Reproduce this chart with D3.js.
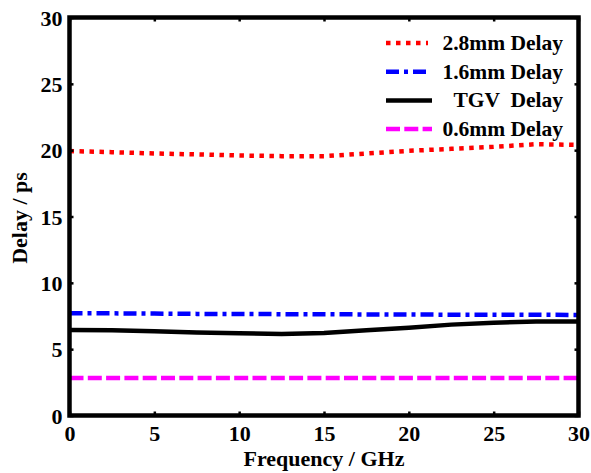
<!DOCTYPE html>
<html>
<head>
<meta charset="utf-8">
<script src="https://cdn.jsdelivr.net/npm/d3@7"></script>
<style>
  body { margin: 0; background: #fff; }
</style>
</head>
<body>
<div id="chart"></div>
<script>
// frequency samples (GHz) and delays (ps)
const freq = [0, 2.5, 5, 7.5, 10, 12.5, 15, 17.5, 20, 22.5, 25, 27.5, 30];
const delay28 = [19.93, 19.85, 19.75, 19.68, 19.6, 19.55, 19.55, 19.75, 19.95, 20.1, 20.25, 20.45, 20.4];
const delay16 = [7.7, 7.7, 7.68, 7.66, 7.65, 7.64, 7.63, 7.62, 7.61, 7.6, 7.6, 7.59, 7.58];
const delayTGV = [6.45, 6.42, 6.35, 6.25, 6.2, 6.15, 6.22, 6.42, 6.62, 6.85, 7.0, 7.08, 7.08];
const delay06 = [2.82, 2.82, 2.82, 2.82, 2.82, 2.82, 2.82, 2.82, 2.82, 2.82, 2.82, 2.82, 2.82];

const xTicks = [0, 5, 10, 15, 20, 25, 30];
const yTicks = [0, 5, 10, 15, 20, 25, 30];

const seriesNames = ["2.8mm Delay", "1.6mm Delay", "TGV  Delay", "0.6mm Delay"];

const FONT = "'Liberation Serif', 'Times New Roman', Times, serif";

let margin = {top: 17.5, right: 12.5, bottom: 57.5, left: 69.5};
let width = 591 - margin.left - margin.right;
let height = 473 - margin.top - margin.bottom;

let svg = d3.select("#chart").append("svg")
  .attr("width", 591)
  .attr("height", 473)
  .append("g")
  .attr("transform", `translate(${margin.left},${margin.top})`);

let x = d3.scaleLinear().domain([0, 30]).range([0, width]);
let y = d3.scaleLinear().domain([0, 30]).range([height, 0]);

// series
let series = [
  {name: seriesNames[0], values: delay28, color: "#ff0000", dash: "4.5,5.5", len: 42},
  {name: seriesNames[1], values: delay16, color: "#0000ff", dash: "13,5,4,5", len: 42},
  {name: seriesNames[2], values: delayTGV, color: "#000000", dash: null, len: 46},
  {name: seriesNames[3], values: delay06, color: "#ff00ff", dash: "14,4.3", len: 46}
];

let line = d3.line()
  .x((d, i) => x(freq[i]))
  .y(d => y(d));

svg.selectAll(".series")
  .data(series)
  .join("path")
  .attr("class", "series")
  .attr("d", d => line(d.values))
  .attr("fill", "none")
  .attr("stroke", d => d.color)
  .attr("stroke-width", 4.5)
  .attr("stroke-dasharray", d => d.dash);

// axes with inward ticks on all four sides
let xAxis = d3.axisBottom(x).tickValues(xTicks).tickSize(-4).tickPadding(10).tickFormat(d3.format("d"));
let yAxis = d3.axisLeft(y).tickValues(yTicks).tickSize(-4).tickPadding(7).tickFormat(d3.format("d"));

let xAxisG = svg.append("g").attr("transform", `translate(0,${height})`).call(xAxis);
let yAxisG = svg.append("g").call(yAxis);
let topG = svg.append("g").call(d3.axisTop(x).tickValues(xTicks).tickSize(-4).tickFormat(""));
let rightG = svg.append("g").attr("transform", `translate(${width},0)`)
  .call(d3.axisRight(y).tickValues(yTicks).tickSize(-4).tickFormat(""));

[xAxisG, yAxisG, topG, rightG].forEach(g => {
  g.attr("font-family", null).attr("font-size", null);
  g.select(".domain").remove();
  g.selectAll(".tick line").attr("stroke", "#000").attr("stroke-width", 2.5);
  g.selectAll(".tick text")
    .style("font-family", FONT)
    .style("font-weight", "bold")
    .style("font-size", "22px")
    .attr("fill", "#000");
});
yAxisG.selectAll(".tick text").attr("dy", "0.35em");

// frame
svg.append("rect")
  .attr("width", width)
  .attr("height", height)
  .attr("fill", "none")
  .attr("stroke", "#000")
  .attr("stroke-width", 4.5);

// axis labels
svg.append("text")
  .attr("x", width / 2)
  .attr("y", height + 50)
  .style("text-anchor", "middle")
  .style("font-family", FONT)
  .style("font-weight", "bold")
  .style("font-size", "22px")
  .text("Frequency / GHz");

svg.append("text")
  .attr("transform", "rotate(-90)")
  .attr("x", -(218 - margin.top))
  .attr("y", -margin.left + 27)
  .style("text-anchor", "middle")
  .style("font-family", FONT)
  .style("font-weight", "bold")
  .style("font-size", "22px")
  .text("Delay / ps");

// legend
let legend = svg.append("g").attr("transform", `translate(${386 - margin.left},${43 - margin.top})`);
let rows = legend.selectAll("g")
  .data(series)
  .join("g")
  .attr("transform", (d, i) => `translate(0,${i * 28.7})`);

rows.append("line")
  .attr("x1", 0)
  .attr("x2", d => d.len)
  .attr("y1", 0)
  .attr("y2", 0)
  .attr("stroke", d => d.color)
  .attr("stroke-width", 4.5)
  .attr("stroke-dasharray", d => d.dash);

rows.append("text")
  .attr("x", 177)
  .attr("y", 7)
  .style("text-anchor", "end")
  .style("white-space", "pre")
  .style("font-family", FONT)
  .style("font-weight", "bold")
  .style("font-size", "21.5px")
  .text(d => d.name);
</script>
</body>
</html>
